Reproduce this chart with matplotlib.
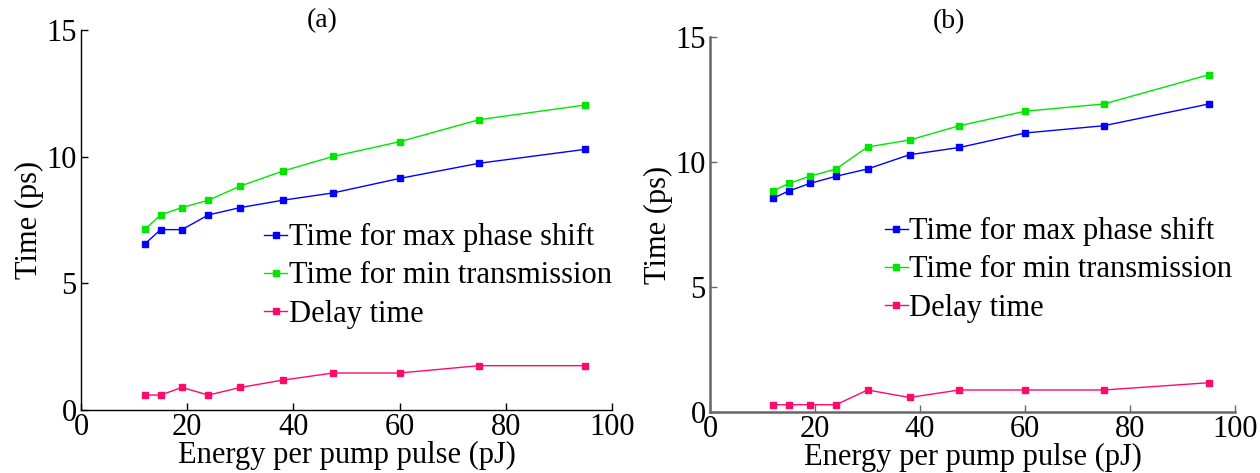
import matplotlib
matplotlib.use("Agg")
import matplotlib.pyplot as plt

plt.rcParams['font.family'] = ['Liberation Serif', 'DejaVu Serif']

# energy per pump pulse (pJ), same for both panels
energy = [12, 15, 19, 24, 30, 38, 47.5, 60, 75, 95]

# panel (a)
a_phase = [6.55, 7.12, 7.12, 7.7, 7.99, 8.28, 8.57, 9.14, 9.74, 10.29]
a_trans = [7.13, 7.7, 7.99, 8.28, 8.84, 9.43, 10.01, 10.59, 11.46, 12.04]
a_delay = [0.59, 0.59, 0.89, 0.59, 0.89, 1.18, 1.46, 1.46, 1.75, 1.75]

# panel (b)
b_phase = [8.55, 8.84, 9.14, 9.43, 9.72, 10.29, 10.58, 11.16, 11.45, 12.32]
b_trans = [8.84, 9.14, 9.43, 9.72, 10.6, 10.88, 11.45, 12.03, 12.32, 13.49]
b_delay = [0.29, 0.29, 0.29, 0.29, 0.88, 0.58, 0.88, 0.88, 0.88, 1.17]

labels = ["Time for max phase shift", "Time for min transmission", "Delay time"]
colors = ["#0000ff", "#00e600", "#ff0a6a"]

fig = plt.figure(figsize=(12.6, 4.73), dpi=100)
ax_a = fig.add_axes([0.0643, 0.1332, 0.4214, 0.8034])
ax_b = fig.add_axes([0.5635, 0.129, 0.4167, 0.7928])

panels = [
    (ax_a, [a_phase, a_trans, a_delay], "(a)", "black", 1.0, (0.345, 0.353), 1.024),
    (ax_b, [b_phase, b_trans, b_delay], "(b)", "#666666", 1.8, (0.333, 0.379), 1.04),
]

for ax, series, tag, spcol, spw, legpos, ty in panels:
    for vals, lab, c in zip(series, labels, colors):
        ax.plot(energy, vals, color=c, lw=1.0, marker='s', ms=5,
                mec=c, mfc=c, label=lab)
    ax.set_xlim(0, 100)
    ax.set_ylim(0, 15)
    ax.set_xticks([0, 20, 40, 60, 80, 100])
    ax.set_yticks([0, 5, 10, 15])
    for s in ['top', 'right']:
        ax.spines[s].set_visible(False)
    for s in ['left', 'bottom']:
        ax.spines[s].set_color(spcol)
        ax.spines[s].set_linewidth(spw)
    ax.tick_params(direction='in', length=5, width=1, colors=spcol,
                   labelcolor='black', labelsize=22)
    ax.tick_params(axis='x', pad=2)
    ax.tick_params(axis='y', pad=3)
    ax.set_xlabel("Energy per pump pulse (pJ)", fontsize=22, labelpad=-0.5)
    ax.set_ylabel("Time (ps)", fontsize=22, labelpad=2)
    ax.text(0.455, ty, tag, transform=ax.transAxes, ha='center',
            va='center', fontsize=20)
    ax.legend(loc='center left', bbox_to_anchor=legpos, frameon=False,
              fontsize=22, handlelength=0.75, handletextpad=0.05,
              labelspacing=0.3, borderaxespad=0, borderpad=0,
              markerscale=0.9)

fig.savefig("out.png", dpi=100)
